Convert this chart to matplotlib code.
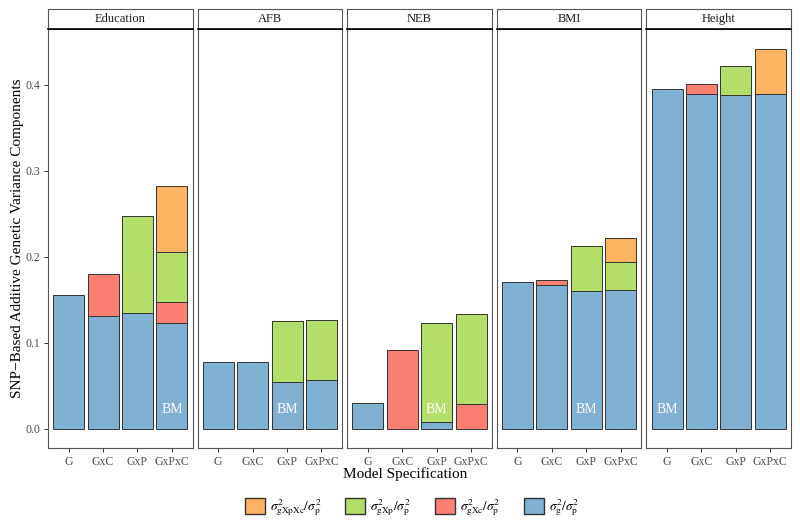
import matplotlib.pyplot as plt
from matplotlib.patches import Patch

plt.rcParams['font.family'] = ['Liberation Serif', 'DejaVu Serif']
plt.rcParams['mathtext.fontset'] = 'stix'

# data
traits = ["Education", "AFB", "NEB", "BMI", "Height"]
models = ["G", "GxC", "GxP", "GxPxC"]

# stacked components (bottom to top): g, gxc, gxp, gxpxc
g_vals = {
    "Education": [0.156, 0.131, 0.135, 0.1235],
    "AFB": [0.0773, 0.0776, 0.0551, 0.0571],
    "NEB": [0.0303, 0.0, 0.0077, 0.0],
    "BMI": [0.1706, 0.1668, 0.160, 0.161],
    "Height": [0.395, 0.3895, 0.388, 0.389],
}
gxc_vals = {
    "Education": [0, 0.049, 0, 0.0245],
    "AFB": [0, 0, 0, 0],
    "NEB": [0, 0.0916, 0, 0.029],
    "BMI": [0, 0.0066, 0, 0],
    "Height": [0, 0.011, 0, 0],
}
gxp_vals = {
    "Education": [0, 0, 0.112, 0.058],
    "AFB": [0, 0, 0.0708, 0.0691],
    "NEB": [0, 0, 0.115, 0.105],
    "BMI": [0, 0, 0.053, 0.033],
    "Height": [0, 0, 0.0345, 0],
}
gxpxc_vals = {
    "Education": [0, 0, 0, 0.076],
    "AFB": [0, 0, 0, 0],
    "NEB": [0, 0, 0, 0],
    "BMI": [0, 0, 0, 0.028],
    "Height": [0, 0, 0, 0.053],
}
# which model carries the "BM" label in each panel
bm_model = {"Education": "GxPxC", "AFB": "GxP", "NEB": "GxP", "BMI": "GxP", "Height": "G"}

col_g = "#80B1D3"
col_gxc = "#FB8072"
col_gxp = "#B3DE69"
col_gxpxc = "#FDB462"

fig = plt.figure(figsize=(8, 5.27), dpi=100)

W, H = 800, 527
left0 = 48
pw = 144.5
gap = 5.1
ax_bottom = 448
ax_top = 29
strip_top = 9

for i, trait in enumerate(traits):
    x0 = left0 + i * (pw + gap)
    ax = fig.add_axes([x0 / W, (H - ax_bottom) / H, pw / W, (ax_bottom - ax_top) / H])
    bottom = [0.0] * 4
    for vals, col in [(g_vals, col_g), (gxc_vals, col_gxc), (gxp_vals, col_gxp), (gxpxc_vals, col_gxpxc)]:
        heights = vals[trait]
        for j in range(len(models)):
            if heights[j] > 0:
                ax.bar(j, heights[j], bottom=bottom[j], width=0.9, color=col,
                       edgecolor="#333333", linewidth=0.7)
        bottom = [b + h for b, h in zip(bottom, heights)]
    ax.text(models.index(bm_model[trait]), 0.023, "BM", color="white",
            ha="center", va="center", fontsize=10)
    ax.set_xlim(-0.6, 3.6)
    ax.set_ylim(-0.0222, 0.465)
    ax.set_xticks(range(4))
    ax.set_xticklabels(models)
    ax.set_yticks([0.0, 0.1, 0.2, 0.3, 0.4])
    if i == 0:
        ax.set_yticklabels(["0.0", "0.1", "0.2", "0.3", "0.4"])
    else:
        ax.tick_params(axis="y", left=False, labelleft=False)
    ax.tick_params(axis="both", labelsize=8.5, colors="#333333", labelcolor="#4D4D4D",
                   length=3, width=0.7, pad=2.5)
    for s in ax.spines.values():
        s.set_color("#555555")
        s.set_linewidth(0.8)
    # strip
    sax = fig.add_axes([x0 / W, (H - ax_top) / H, pw / W, (ax_top - strip_top) / H])
    sax.set_xticks([])
    sax.set_yticks([])
    for s in sax.spines.values():
        s.set_color("#555555")
        s.set_linewidth(0.8)
    sax.spines["bottom"].set_color("black")
    sax.spines["bottom"].set_linewidth(1.2)
    sax.text(0.5, 0.5, trait, ha="center", va="center", fontsize=9,
             color="#1A1A1A", transform=sax.transAxes)

fig.text(405 / W, 1 - 474 / H, "Model Specification", ha="center", va="center", fontsize=11)
fig.text(18 / W, 1 - 238 / H, "SNP\u2212Based Additive Genetic Variance Components",
         rotation=90, ha="center", va="center", fontsize=11)

handles = [
    Patch(facecolor=col_gxpxc, edgecolor="#333333", label=r"$\sigma^2_{\mathrm{gXpXc}}/\sigma^2_{\mathrm{p}}$"),
    Patch(facecolor=col_gxp, edgecolor="#333333", label=r"$\sigma^2_{\mathrm{gXp}}/\sigma^2_{\mathrm{p}}$"),
    Patch(facecolor=col_gxc, edgecolor="#333333", label=r"$\sigma^2_{\mathrm{gXc}}/\sigma^2_{\mathrm{p}}$"),
    Patch(facecolor=col_g, edgecolor="#333333", label=r"$\sigma^2_{\mathrm{g}}/\sigma^2_{\mathrm{p}}$"),
]
fig.legend(handles=handles, loc="center", bbox_to_anchor=(412 / W, 1 - 508 / H), ncol=4,
           frameon=False, fontsize=9.5, handlelength=1.5, handleheight=1.5,
           columnspacing=1.8, handletextpad=0.4)

plt.savefig("out.png", dpi=100)
